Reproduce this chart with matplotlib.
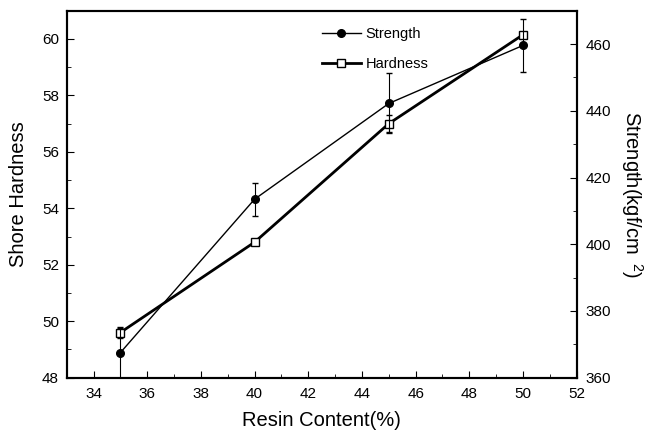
import matplotlib.pyplot as plt
from matplotlib.lines import Line2D
from matplotlib.ticker import MultipleLocator

plt.rcParams['font.family'] = ['Liberation Sans', 'DejaVu Sans']
plt.rcParams['mathtext.fontset'] = 'custom'
plt.rcParams['mathtext.rm'] = 'Liberation Sans'

# Data
resin = [35, 40, 45, 50]
hardness = [49.6, 52.8, 57.0, 60.15]
hardness_err = [0.2, 0.0, 0.3, 0.1]
strength = [367.5, 413.5, 442.2, 459.6]
strength_err = [7.5, 5, 9, 8]

fig = plt.figure(figsize=(6.46, 4.34), dpi=100)
ax = fig.add_axes([0.1032, 0.1297, 0.7895, 0.8456])
ax2 = ax.twinx()

# Hardness on the left axis
ax.errorbar(resin, hardness, yerr=hardness_err, color='black', lw=2.0,
            marker='s', ms=5.5, mfc='white', mec='black', mew=1.0,
            capsize=2.5, elinewidth=0.8)

# Strength on the right axis
ax2.errorbar(resin, strength, yerr=strength_err, color='black', lw=1.0,
             marker='o', ms=5.5, mfc='black', capsize=2.5, elinewidth=0.8)

ax.set_xlim(33, 52)
ax.set_ylim(48, 61)
ax2.set_ylim(360, 470)

ax.xaxis.set_major_locator(MultipleLocator(2))
ax.xaxis.set_minor_locator(MultipleLocator(1))
ax.yaxis.set_major_locator(MultipleLocator(2))
ax.yaxis.set_minor_locator(MultipleLocator(1))
ax2.yaxis.set_major_locator(MultipleLocator(20))
ax2.yaxis.set_minor_locator(MultipleLocator(10))

ax.tick_params(which='both', direction='in', top=False, labelsize=11)
ax.tick_params(axis='x', which='major', pad=7)
ax.tick_params(axis='y', which='major', pad=5.5)
ax.tick_params(which='major', length=5)
ax.tick_params(which='minor', length=3)
ax2.tick_params(which='both', direction='in', labelsize=11)
ax2.tick_params(which='major', length=5, pad=6.5)
ax2.tick_params(which='minor', length=3)

for a in (ax, ax2):
    for s in a.spines.values():
        s.set_linewidth(1.5)

ax.set_xlabel('Resin Content(%)', fontsize=14.5, labelpad=7)
ax.set_ylabel('Shore Hardness', fontsize=14.5, labelpad=10)
ax2.set_ylabel('Strength(kgf/cm$^{\\ \\ 2}$)', fontsize=14.5, rotation=270,
               labelpad=24)

handles = [
    Line2D([], [], color='black', lw=1.0, marker='o', ms=5.5, mfc='black'),
    Line2D([], [], color='black', lw=2.0, marker='s', ms=5.5, mfc='white',
           mec='black', mew=1.0),
]
fig.legend(handles, ['Strength', 'Hardness'], loc='upper left',
           bbox_to_anchor=(0.489, 0.951), bbox_transform=fig.transFigure,
           borderaxespad=0, frameon=False, fontsize=10.5,
           handlelength=2.7, handletextpad=0.3, labelspacing=1.08)

fig.savefig('out.png', dpi=100)
